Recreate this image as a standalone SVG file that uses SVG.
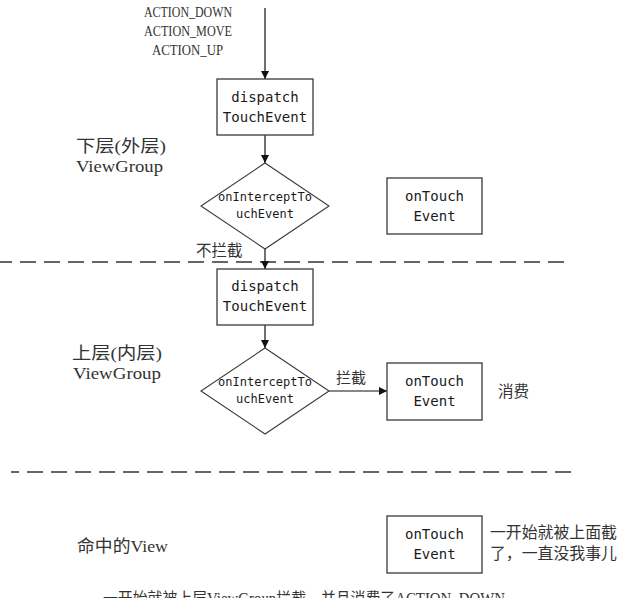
<svg xmlns="http://www.w3.org/2000/svg" width="619" height="598" viewBox="0 0 619 598">
<defs>
<marker id="arr" viewBox="0 0 10 10" refX="10" refY="5" markerWidth="8" markerHeight="8" markerUnits="userSpaceOnUse" orient="auto">
<path d="M0,0 L10,5 L0,10 Z" fill="#111"/>
</marker>
</defs>
<style>
.box{fill:#fff;stroke:#3a3a3a;stroke-width:1.3}
.dia{fill:#fff;stroke:#3a3a3a;stroke-width:1.1}
.code{font-family:"DejaVu Sans Mono",monospace;fill:#1a1a1a;text-anchor:middle}
.lbl{font-family:"Liberation Serif","Noto Sans CJK SC",serif;fill:#333}
.cjk{font-family:"Noto Sans CJK SC",sans-serif;fill:#333}
.edge{stroke:#111;stroke-width:1.2;fill:none}
.dash{stroke:#333;stroke-width:1.3;stroke-dasharray:16 8}
</style>
<rect width="619" height="598" fill="#fff"/>

<g id="input-labels">
<text class="lbl" x="144" y="17" font-size="15" textLength="88" lengthAdjust="spacingAndGlyphs">ACTION_DOWN</text>
<text class="lbl" x="144" y="36" font-size="15" textLength="88" lengthAdjust="spacingAndGlyphs">ACTION_MOVE</text>
<text class="lbl" x="152" y="55" font-size="15" textLength="71" lengthAdjust="spacingAndGlyphs">ACTION_UP</text>
</g>

<g id="separators">
<line class="dash" x1="0" y1="262" x2="569" y2="262" stroke-dashoffset="4"/>
<line class="dash" x1="11" y1="472" x2="573" y2="472" stroke-dashoffset="8"/>
</g>

<g id="layer-labels">
<text class="lbl" x="76" y="152" font-size="17" textLength="90" lengthAdjust="spacingAndGlyphs">下层(外层)</text>
<text class="lbl" x="76" y="172" font-size="17" textLength="87" lengthAdjust="spacingAndGlyphs">ViewGroup</text>
<text class="lbl" x="72" y="359" font-size="17" textLength="90" lengthAdjust="spacingAndGlyphs">上层(内层)</text>
<text class="lbl" x="73" y="379" font-size="17" textLength="88" lengthAdjust="spacingAndGlyphs">ViewGroup</text>
<text class="lbl" x="77" y="552" font-size="17" textLength="91" lengthAdjust="spacingAndGlyphs">命中的View</text>
</g>

<g id="connectors">
<line class="edge" x1="265" y1="8" x2="265" y2="79" marker-end="url(#arr)"/>
<line class="edge" x1="265" y1="135" x2="265" y2="163" marker-end="url(#arr)"/>
<line class="edge" x1="265" y1="249" x2="265" y2="269" marker-end="url(#arr)"/>
<line class="edge" x1="265" y1="325" x2="265" y2="348" marker-end="url(#arr)"/>
<line class="edge" x1="329" y1="391" x2="387" y2="391" marker-end="url(#arr)"/>
<text class="cjk" x="196" y="256" font-size="15.5">不拦截</text>
<text class="cjk" x="336" y="383" font-size="15">拦截</text>
</g>

<g id="dispatch1">
<rect class="box" x="217" y="79" width="96" height="56"/>
<text class="code" x="265" y="102" font-size="14">dispatch</text>
<text class="code" x="265" y="122" font-size="14">TouchEvent</text>
</g>

<g id="intercept1">
<polygon class="dia" points="265,163 329,206 265,249 201,206"/>
<text class="code" x="265" y="201" font-size="12">onInterceptTo</text>
<text class="code" x="265" y="218" font-size="12">uchEvent</text>
</g>

<g id="ontouch1">
<rect class="box" x="387" y="178" width="95" height="56"/>
<text class="code" x="434.5" y="201" font-size="14">onTouch</text>
<text class="code" x="434.5" y="221" font-size="14">Event</text>
</g>

<g id="dispatch2">
<rect class="box" x="217" y="269" width="96" height="56"/>
<text class="code" x="265" y="291" font-size="14">dispatch</text>
<text class="code" x="265" y="311" font-size="14">TouchEvent</text>
</g>

<g id="intercept2">
<polygon class="dia" points="265,348 329,391 265,434 201,391"/>
<text class="code" x="265" y="386" font-size="12">onInterceptTo</text>
<text class="code" x="265" y="403" font-size="12">uchEvent</text>
</g>

<g id="ontouch2">
<rect class="box" x="387" y="363" width="95" height="57"/>
<text class="code" x="434.5" y="386" font-size="14">onTouch</text>
<text class="code" x="434.5" y="406" font-size="14">Event</text>
<text class="cjk" x="498" y="397" font-size="15.5">消费</text>
</g>

<g id="ontouch3">
<rect class="box" x="387" y="516" width="95" height="57"/>
<text class="code" x="434.5" y="539" font-size="14">onTouch</text>
<text class="code" x="434.5" y="559" font-size="14">Event</text>
<text class="cjk" x="490" y="538" font-size="15.5" textLength="127" lengthAdjust="spacingAndGlyphs">一开始就被上面截</text>
<text class="cjk" x="490" y="559" font-size="15.5" textLength="127" lengthAdjust="spacingAndGlyphs">了，一直没我事儿</text>
</g>

<g id="footnote">
<text class="lbl" x="103" y="604" font-size="16" textLength="402" lengthAdjust="spacingAndGlyphs">一开始就被上层ViewGroup拦截，并且消费了ACTION_DOWN</text>
</g>
</svg>
